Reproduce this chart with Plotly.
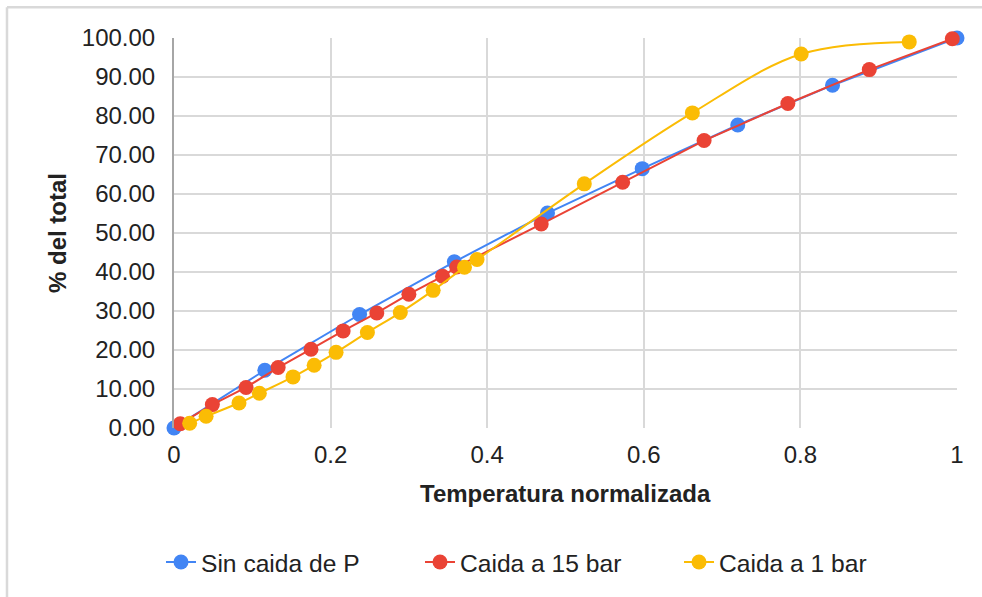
import plotly.graph_objects as go

# Data
blue_name = "Sin caida de P"
blue_x = [0, 0.116, 0.237, 0.358, 0.477, 0.598, 0.720, 0.841, 1.0]
blue_y = [0, 14.8, 29.1, 42.6, 55.1, 66.5, 77.7, 87.9, 100]

red_name = "Caida a 15 bar"
red_x = [0.008, 0.049, 0.092, 0.133, 0.175, 0.216, 0.259, 0.300, 0.343, 0.361,
         0.469, 0.573, 0.677, 0.784, 0.888, 0.994]
red_y = [1.1, 6.0, 10.4, 15.5, 20.2, 24.9, 29.5, 34.3, 38.9, 41.3,
         52.3, 63.0, 73.7, 83.2, 91.9, 99.8]

yellow_name = "Caida a 1 bar"
yellow_x = [0.020, 0.041, 0.083, 0.109, 0.152, 0.179, 0.207, 0.247, 0.289, 0.331,
            0.371, 0.387, 0.524, 0.662, 0.801, 0.939]
yellow_y = [1.2, 3.0, 6.4, 8.9, 13.1, 16.1, 19.4, 24.5, 29.6, 35.3,
            41.2, 43.2, 62.6, 80.8, 95.9, 99.0]

x_ticks = [0, 0.2, 0.4, 0.6, 0.8, 1]
y_ticks = [0, 10, 20, 30, 40, 50, 60, 70, 80, 90, 100]

FONT = "Arial, Liberation Sans, sans-serif"
TXT = "#222222"

fig = go.Figure()
series = [
    (blue_name, blue_x, blue_y, "#4285F4", "linear"),
    (red_name, red_x, red_y, "#EA4335", "linear"),
    (yellow_name, yellow_x, yellow_y, "#FBBC04", "spline"),
]
for name, xs, ys, col, shape in series:
    fig.add_trace(go.Scatter(
        x=xs, y=ys, name=name, mode="lines+markers",
        line=dict(color=col, width=2, shape=shape),
        marker=dict(color=col, size=15),
        cliponaxis=False,
    ))

fig.update_layout(
    width=982, height=597,
    margin=dict(l=174, r=25, t=38, b=169),
    paper_bgcolor="white", plot_bgcolor="white",
    font=dict(family=FONT, size=24, color=TXT),
    showlegend=True,
    legend=dict(orientation="h", x=-0.0166, xanchor="left", y=-0.3436, yanchor="middle",
                entrywidth=214, entrywidthmode="pixels",
                font=dict(size=24.6, color=TXT), bgcolor="rgba(0,0,0,0)"),
    xaxis=dict(range=[0, 1], tickvals=x_ticks, showgrid=True, gridcolor="#d9d9d9",
               gridwidth=2, zeroline=False, showline=False,
               tickfont=dict(size=24, color=TXT), ticklabelstandoff=10),
    yaxis=dict(range=[0, 100], tickvals=y_ticks, tickformat=".2f", showgrid=True,
               gridcolor="#d9d9d9", gridwidth=2, zeroline=False,
               showline=True, linecolor="#a6a6a6", linewidth=2,
               tickfont=dict(size=24, color=TXT), ticklabelstandoff=12),
    annotations=[
        dict(text="<b>Temperatura normalizada</b>", xref="paper", yref="paper",
             x=0.5, y=-0.1667, xanchor="center", yanchor="middle", showarrow=False,
             font=dict(size=24, color=TXT, family=FONT)),
        dict(text="<b>% del total</b>", xref="paper", yref="paper",
             x=-0.1494, y=0.5, xanchor="center", yanchor="middle", showarrow=False,
             textangle=-90, font=dict(size=24, color=TXT, family=FONT)),
    ],
    shapes=[
        dict(type="line", xref="paper", yref="paper", x0=-0.2133, x1=1.2,
             y0=1.0787, y1=1.0787, line=dict(color="#d9d9d9", width=2.5)),
        dict(type="line", xref="paper", yref="paper", x0=-0.2133, x1=-0.2133,
             y0=1.0787, y1=-0.6, line=dict(color="#d9d9d9", width=2.5)),
    ],
)

fig.write_html("out.html")
